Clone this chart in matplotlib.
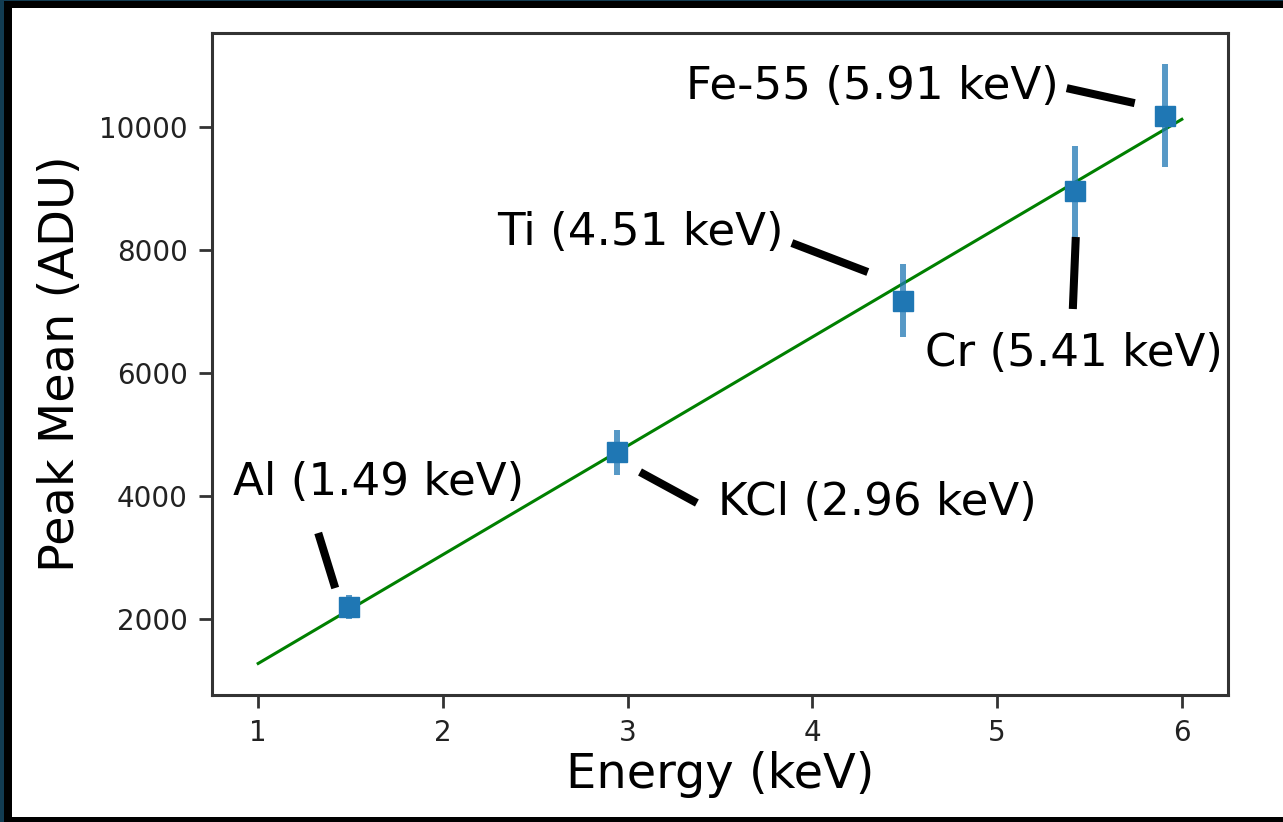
import matplotlib
matplotlib.use("Agg")
import matplotlib.pyplot as plt
from matplotlib.patches import Rectangle

# ===== dados =====
energia = [1.49, 2.94, 4.49, 5.42, 5.91]          # keV
pico_media = [2195, 4716, 7183, 8960, 10191]      # ADU
erro = [200, 366, 594, 737, 838]

# reta ajustada (extremos)
ajuste_x = [1, 6]
ajuste_y = [1280, 10130]

rotulos = ['Al (1.49 keV)', 'KCl (2.96 keV)', 'Ti (4.51 keV)',
           'Cr (5.41 keV)', 'Fe-55 (5.91 keV)']

# posição dos textos e das linhas de indicação (coordenadas dos dados)
pos_texto = [(0.866, 4231), (3.488, 3906), (2.294, 8297), (4.610, 6329), (3.316, 10658)]
linhas = [((1.325, 3402), (1.417, 2507)),
          ((3.067, 4394), (3.375, 3890)),
          ((3.889, 8118), (4.300, 7646)),
          ((5.426, 8216), (5.410, 7045)),
          ((5.377, 10637), (5.745, 10393))]

fig = plt.figure(figsize=(12.83, 8.22), dpi=100, facecolor='black')
W, H = 1283, 822
# moldura: faixa azul escura à esquerda e área branca interna
fig.patches.append(Rectangle((0, 0), 4 / W, 1, transform=fig.transFigure,
                             facecolor='#123c52', edgecolor='none', zorder=-5))
fig.patches.append(Rectangle((0, 1 - 1.5 / H), 1, 1.5 / H, transform=fig.transFigure,
                             facecolor='#123c52', edgecolor='none', zorder=-5))
fig.patches.append(Rectangle((12 / W, 5 / H), 1 - 12 / W, 1 - 13 / H, transform=fig.transFigure,
                             facecolor='white', edgecolor='none', zorder=-5))

ax = fig.add_axes([212 / W, 1 - 695 / H, (1228 - 212) / W, (695 - 33) / H])

ax.plot(ajuste_x, ajuste_y, color='green', linewidth=2.2, zorder=2)
ax.errorbar(energia, pico_media, yerr=erro, fmt='none', ecolor='#1f77b4',
            elinewidth=4.3, alpha=0.75, zorder=3)
ax.plot(energia, pico_media, 's', color='#1f77b4', markersize=15, zorder=4)

for texto, (tx, ty), ((x0, y0), (x1, y1)) in zip(rotulos, pos_texto, linhas):
    ax.text(tx, ty, texto, fontsize=32.5, ha='left', va='center', color='black', zorder=5)
    ax.plot([x0, x1], [y0, y1], color='black', linewidth=5.8,
            solid_capstyle='butt', zorder=5)

ax.set_xlim(0.75, 6.25)
ax.set_ylim(767, 11534)
ax.set_xticks([1, 2, 3, 4, 5, 6])
ax.set_yticks([2000, 4000, 6000, 8000, 10000])

ax.set_xlabel('Energy (keV)', fontsize=34.5)
ax.set_ylabel('Peak Mean (ADU)', fontsize=34.5)
ax.xaxis.set_label_coords(0.5, -0.085)
ax.yaxis.set_label_coords(-0.126, 0.5)

for s in ax.spines.values():
    s.set_linewidth(2.2)
    s.set_color('#333333')
ax.tick_params(labelsize=20, length=9.5, width=2, color='#333333',
               labelcolor='#222222', pad=8)

fig.savefig('out.png', dpi=100, facecolor=fig.get_facecolor())
